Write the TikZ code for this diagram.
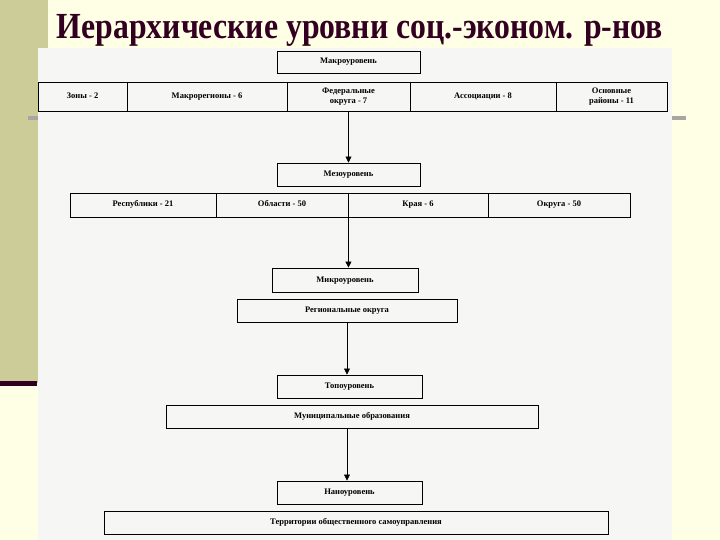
\documentclass[tikz,border=0pt]{standalone}
\usepackage{graphicx}
\usepackage{fontspec}
\setmainfont{Liberation Serif}
\usetikzlibrary{arrows.meta}
\definecolor{bgc}{HTML}{FFFFE6}
\definecolor{band}{HTML}{CCCC99}
\definecolor{dline}{HTML}{330022}
\definecolor{imgc}{HTML}{F6F6F4}
\begin{document}
\begin{tikzpicture}[x=1pt,y=-1pt,
  bx/.style={draw=black,line width=0.9pt,font=\bfseries\fontsize{8.5}{9.5}\selectfont,align=center,inner sep=0pt,text height=6pt,text depth=2pt},
  bxtwo/.style={draw=black,line width=0.9pt,font=\bfseries\fontsize{8.5}{9.5}\selectfont,align=center,inner sep=0pt},
  arr/.style={-{Triangle[length=6pt,width=6pt]},line width=0.7pt}]
\useasboundingbox (0,0) rectangle (720,540);
\fill[bgc] (0,0) rectangle (720,540);
\fill[band] (0,0) rectangle (48,383);
\fill[dline] (0,381) rectangle (37,386);
\fill[gray!70] (28,116) rectangle (686,120);
\fill[imgc] (38,48) rectangle (672,540);
\node[text=dline] (title) at (360,30) {\resizebox*{606pt}{32pt}{\bfseries Иерархические уровни соц.-эконом. р-нов}};
\newcommand{\bxn}[7][bx]{\node[#1,minimum width=#5-#4,minimum height=#7-#6] (#2) at ({(#4+#5)/2},{(#6+#7)/2}) {#3};}
\bxn{macro}{Макроуровень}{277}{420}{51}{73}
\bxn{z1}{Зоны - 2}{38}{127}{82}{111}
\bxn{z2}{Макрорегионы - 6}{127}{287}{82}{111}
\bxn[bxtwo]{z3}{Федеральные\\округа - 7}{287}{410}{82}{111}
\bxn{z4}{Ассоциации - 8}{410}{556}{82}{111}
\bxn[bxtwo]{z5}{Основные\\районы - 11}{556}{667}{82}{111}
\bxn{meso}{Мезоуровень}{277}{420}{163}{186}
\bxn{r1}{Республики - 21}{70}{216}{193}{217}
\bxn{r2}{Области - 50}{216}{348}{193}{217}
\bxn{r3}{Края - 6}{348}{488}{193}{217}
\bxn{r4}{Округа - 50}{488}{630}{193}{217}
\bxn{micro}{Микроуровень}{272}{418}{268}{292}
\bxn{reg}{Региональные округа}{237}{457}{299}{322}
\bxn{topo}{Топоуровень}{277}{422}{375}{398}
\bxn{mun}{Муниципальные образования}{166}{538}{405}{428}
\bxn{nano}{Наноуровень}{277}{422}{481}{504}
\bxn{ter}{Территории общественного самоуправления}{104}{608}{511}{534}
\draw[arr] (z3.south -| macro.south) -- (macro.south |- meso.north);
\draw[arr] (r2.south east) -- (r2.south east |- micro.north);
\draw[arr] (reg.south) -- (reg.south |- topo.north);
\draw[arr] (mun.south -| reg.south) -- (reg.south |- nano.north);
\end{tikzpicture}
\end{document}
